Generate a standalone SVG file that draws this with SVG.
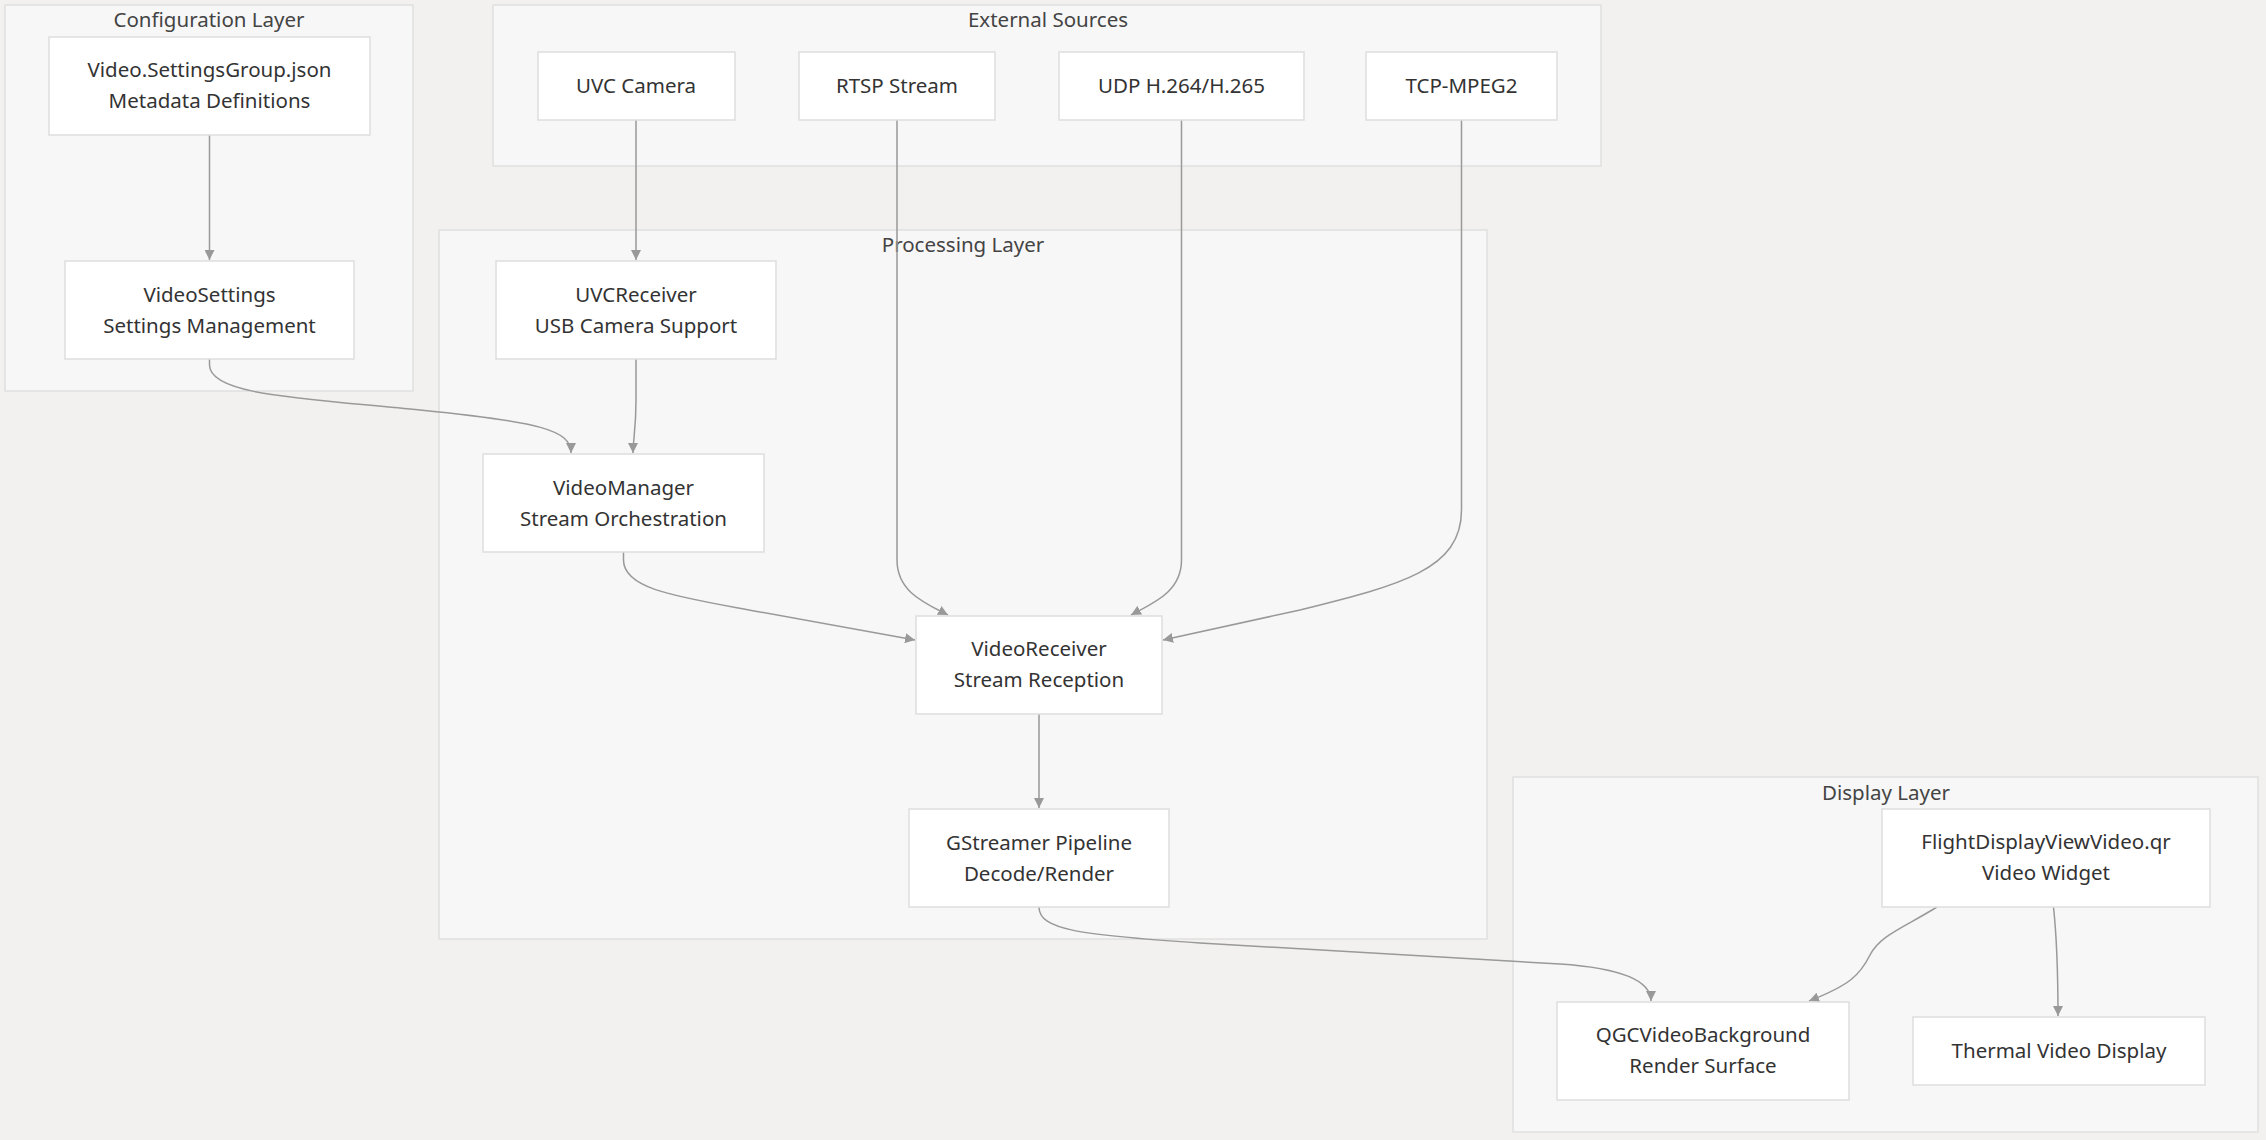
<svg xmlns="http://www.w3.org/2000/svg" width="2266" height="1140" viewBox="0 0 2266 1140">
<style>
.bg{fill:#f2f1ef}
.cl{fill:#f7f7f7;stroke:#e0e0e0;stroke-width:1.5}
.nd{fill:#ffffff;stroke:#dedede;stroke-width:1.5}
text{font-family:"Noto Sans","Open Sans","Liberation Sans",sans-serif;font-size:20.5px;fill:#333333;text-anchor:middle}
.ct{fill:#444444}
.ed{fill:none;stroke:#999999;stroke-width:1.5;marker-end:url(#ah)}
</style>
<defs>
<marker id="ah" markerUnits="userSpaceOnUse" viewBox="0 0 10 10" markerWidth="10" markerHeight="10" refX="10" refY="5" orient="auto">
<path d="M0,0 L10,5 L0,10 z" fill="#999999"/>
</marker>
</defs>
<rect class="bg" x="0" y="0" width="2266" height="1140"/>
<g id="clusters">
<g id="cluster-config"><rect class="cl" x="5" y="5" width="408" height="386"/><text class="ct" x="209" y="27">Configuration Layer</text></g>
<g id="cluster-external"><rect class="cl" x="493" y="5" width="1108" height="161"/><text class="ct" x="1048" y="27">External Sources</text></g>
<g id="cluster-processing"><rect class="cl" x="439" y="230" width="1048" height="709"/><text class="ct" x="963" y="252">Processing Layer</text></g>
<g id="cluster-display"><rect class="cl" x="1513" y="777" width="745" height="355"/><text class="ct" x="1886" y="800">Display Layer</text></g>
</g>
<g id="edges">
<path class="ed" d="M209.5,135 L209.5,260"/>
<path class="ed" d="M209.5,359 L209.5,365 C209.5,395 300,398 420,410 C540,422 571,430 571,453"/>
<path class="ed" d="M636,120 L636,260"/>
<path class="ed" d="M636,359 L636,400 C636,430 633,440 633,453"/>
<path class="ed" d="M623.5,552 L623.5,560 C623.5,590 680,597 760,612 L915,640"/>
<path class="ed" d="M897,120 L897,560 C897,592 925,603 948,615"/>
<path class="ed" d="M1181.5,120 L1181.5,560 C1181.5,592 1153,603 1131,615"/>
<path class="ed" d="M1461.5,120 L1461.5,510 C1461.5,570 1400,585 1300,610 L1163,640"/>
<path class="ed" d="M1039,714 L1039,808"/>
<path class="ed" d="M1039,907 C1039,930 1080,935 1200,943 L1560,964 C1620,968 1651,980 1651,1001"/>
<path class="ed" d="M1937,907 C1905,927 1880,935 1870,955 C1860,975 1850,985 1809,1001"/>
<path class="ed" d="M2053.5,907 C2057,940 2058,980 2058,1016"/>
</g>
<g id="n-json"><rect class="nd" x="49" y="37" width="321" height="98"/><text x="209.5" y="77">Video.SettingsGroup.json</text><text x="209.5" y="108">Metadata Definitions</text></g>
<g id="n-videosettings"><rect class="nd" x="65" y="261" width="289" height="98"/><text x="209.5" y="302">VideoSettings</text><text x="209.5" y="333">Settings Management</text></g>
<g id="n-uvccam"><rect class="nd" x="538" y="52" width="197" height="68"/><text x="636" y="93">UVC Camera</text></g>
<g id="n-rtsp"><rect class="nd" x="799" y="52" width="196" height="68"/><text x="897" y="93">RTSP Stream</text></g>
<g id="n-udp"><rect class="nd" x="1059" y="52" width="245" height="68"/><text x="1181.5" y="93">UDP H.264/H.265</text></g>
<g id="n-tcp"><rect class="nd" x="1366" y="52" width="191" height="68"/><text x="1461.5" y="93">TCP-MPEG2</text></g>
<g id="n-uvcrecv"><rect class="nd" x="496" y="261" width="280" height="98"/><text x="636" y="302">UVCReceiver</text><text x="636" y="333">USB Camera Support</text></g>
<g id="n-videomanager"><rect class="nd" x="483" y="454" width="281" height="98"/><text x="623.5" y="495">VideoManager</text><text x="623.5" y="526">Stream Orchestration</text></g>
<g id="n-videoreceiver"><rect class="nd" x="916" y="616" width="246" height="98"/><text x="1039" y="656">VideoReceiver</text><text x="1039" y="687">Stream Reception</text></g>
<g id="n-gstreamer"><rect class="nd" x="909" y="809" width="260" height="98"/><text x="1039" y="850">GStreamer Pipeline</text><text x="1039" y="881">Decode/Render</text></g>
<g id="n-flightdisplay"><rect class="nd" x="1882" y="809" width="328" height="98"/><text x="2046" y="849">FlightDisplayViewVideo.qr</text><text x="2046" y="880">Video Widget</text></g>
<g id="n-qgcbg"><rect class="nd" x="1557" y="1002" width="292" height="98"/><text x="1703" y="1042">QGCVideoBackground</text><text x="1703" y="1073">Render Surface</text></g>
<g id="n-thermal"><rect class="nd" x="1913" y="1017" width="292" height="68"/><text x="2059" y="1058">Thermal Video Display</text></g>
</svg>
